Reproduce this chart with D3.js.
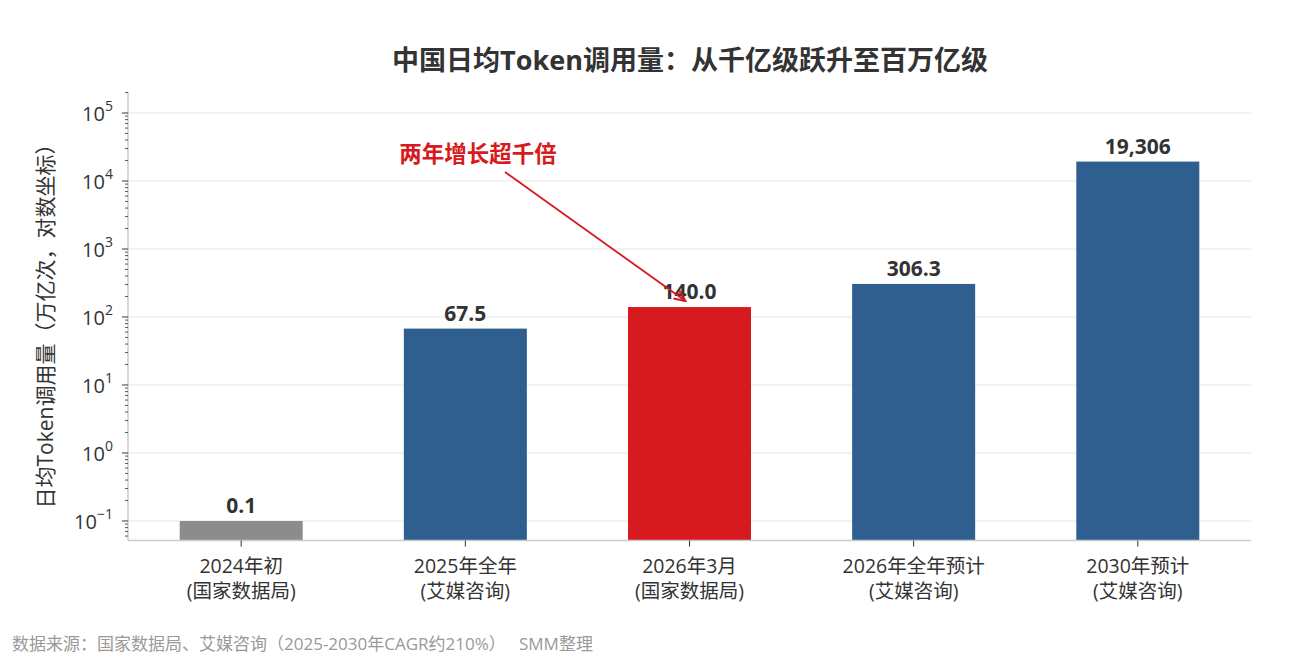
<!DOCTYPE html>
<html>
<head>
<meta charset="utf-8">
<script src="https://cdn.jsdelivr.net/npm/d3@7"></script>
<style>
  body { margin: 0; background: #fff; }
  text { font-family: "Open Sans", "Noto Sans CJK SC", sans-serif; }
</style>
</head>
<body>
<svg id="chart" width="1290" height="660"></svg>
<script>
const categories = ["2024年初", "2025年全年", "2026年3月", "2026年全年预计", "2030年预计"];
const sources = ["(国家数据局)", "(艾媒咨询)", "(国家数据局)", "(艾媒咨询)", "(艾媒咨询)"];
const values = [0.1, 67.5, 140.0, 306.3, 19306];
const valueLabels = ["0.1", "67.5", "140.0", "306.3", "19,306"];
const barColors = ["#8c8c8c", "#2e5f8e", "#d71920", "#2e5f8e", "#2e5f8e"];
const tickExponents = [-1, 0, 1, 2, 3, 4, 5];

const svg = d3.select("#chart");
const plotLeft = 128, plotRight = 1251, plotTop = 92, plotBottom = 540.5;

const x = d3.scaleLinear().domain([-0.505, 4.505]).range([plotLeft, plotRight]);
const y = d3.scaleLog().domain([Math.pow(10, -1.287), Math.pow(10, 5.309)]).range([plotBottom, plotTop]);
const barW = 123;

// grid
svg.append("g").selectAll("line")
  .data(tickExponents)
  .join("line")
  .attr("x1", plotLeft).attr("x2", plotRight)
  .attr("y1", d => y(Math.pow(10, d))).attr("y2", d => y(Math.pow(10, d)))
  .attr("stroke", "#e6e6e6").attr("stroke-width", 1.2);

// bars
svg.append("g").selectAll("rect")
  .data(values)
  .join("rect")
  .attr("x", (d, i) => x(i) - barW / 2)
  .attr("width", barW)
  .attr("y", d => y(d))
  .attr("height", d => plotBottom - y(d))
  .attr("fill", (d, i) => barColors[i]);

// value labels
svg.append("g").selectAll("text")
  .data(values)
  .join("text")
  .attr("x", (d, i) => x(i))
  .attr("y", d => y(d) - 8)
  .attr("text-anchor", "middle")
  .attr("font-size", 21)
  .attr("font-weight", "bold")
  .attr("fill", "#333")
  .text((d, i) => valueLabels[i]);

// spines
svg.append("line").attr("x1", plotLeft).attr("x2", plotLeft).attr("y1", plotTop).attr("y2", plotBottom)
  .attr("stroke", "#cccccc").attr("stroke-width", 1.5);
svg.append("line").attr("x1", plotLeft).attr("x2", plotRight).attr("y1", plotBottom).attr("y2", plotBottom)
  .attr("stroke", "#cccccc").attr("stroke-width", 1.5);

// y ticks: major + minor
const minor = [];
for (let e = -2; e <= 5; e++) {
  for (let m = 2; m <= 9; m++) {
    const v = m * Math.pow(10, e);
    if (v >= y.domain()[0] && v <= y.domain()[1]) minor.push(v);
  }
}
svg.append("g").selectAll("line")
  .data(minor)
  .join("line")
  .attr("x1", plotLeft - 3).attr("x2", plotLeft)
  .attr("y1", d => y(d)).attr("y2", d => y(d))
  .attr("stroke", "#333").attr("stroke-width", 0.8);
svg.append("g").selectAll("line")
  .data(tickExponents)
  .join("line")
  .attr("x1", plotLeft - 6).attr("x2", plotLeft)
  .attr("y1", d => y(Math.pow(10, d))).attr("y2", d => y(Math.pow(10, d)))
  .attr("stroke", "#333").attr("stroke-width", 1);

const yt = svg.append("g").selectAll("text")
  .data(tickExponents)
  .join("text")
  .attr("x", plotLeft - 15)
  .attr("y", d => y(Math.pow(10, d)) + 8)
  .attr("text-anchor", "end")
  .attr("font-size", 20)
  .attr("fill", "#333");
yt.append("tspan").text("10");
yt.append("tspan").attr("dy", -10).attr("font-size", 14)
  .text(d => d < 0 ? "\u2212" + (-d) : d);

// x ticks
svg.append("g").selectAll("line")
  .data(categories)
  .join("line")
  .attr("x1", (d, i) => x(i)).attr("x2", (d, i) => x(i))
  .attr("y1", plotBottom).attr("y2", plotBottom + 6)
  .attr("stroke", "#333").attr("stroke-width", 1);
svg.append("g").selectAll("text")
  .data(categories)
  .join("text")
  .attr("x", (d, i) => x(i)).attr("y", 573)
  .attr("text-anchor", "middle")
  .attr("font-size", 19.5)
  .attr("fill", "#333")
  .text(d => d);
svg.append("g").selectAll("text")
  .data(sources)
  .join("text")
  .attr("x", (d, i) => x(i)).attr("y", 598)
  .attr("text-anchor", "middle")
  .attr("font-size", 19.5)
  .attr("fill", "#333")
  .text(d => d);

// y axis label
svg.append("text")
  .attr("transform", "translate(53,321) rotate(-90)")
  .attr("text-anchor", "middle")
  .attr("font-size", 21)
  .attr("fill", "#333")
  .text("日均Token调用量（万亿次，对数坐标）");

// title
svg.append("text")
  .attr("x", 690).attr("y", 70)
  .attr("text-anchor", "middle")
  .attr("font-size", 27)
  .attr("font-weight", "bold")
  .attr("fill", "#333")
  .text("中国日均Token调用量：从千亿级跃升至百万亿级");

// annotation
svg.append("defs").append("marker")
  .attr("id", "arrow")
  .attr("viewBox", "0 0 10 10")
  .attr("refX", 9).attr("refY", 5)
  .attr("markerWidth", 7).attr("markerHeight", 7)
  .attr("orient", "auto")
  .append("path")
  .attr("d", "M0,1 L9,5 L0,9")
  .attr("fill", "none")
  .attr("stroke", "#d71920")
  .attr("stroke-width", 1.6);
svg.append("line")
  .attr("x1", 505).attr("y1", 172)
  .attr("x2", x(2) - 4).attr("y2", y(values[2]) - 6)
  .attr("stroke", "#d71920").attr("stroke-width", 1.8)
  .attr("marker-end", "url(#arrow)");
svg.append("text")
  .attr("x", 478).attr("y", 162)
  .attr("text-anchor", "middle")
  .attr("font-size", 22.5)
  .attr("font-weight", "bold")
  .attr("fill", "#d71920")
  .text("两年增长超千倍");

// footer
svg.append("text")
  .attr("x", 12).attr("y", 650)
  .attr("font-size", 17)
  .attr("fill", "#999")
  .style("white-space", "pre")
  .text("数据来源：国家数据局、艾媒咨询（2025-2030年CAGR约210%）   SMM整理");
</script>
</body>
</html>
